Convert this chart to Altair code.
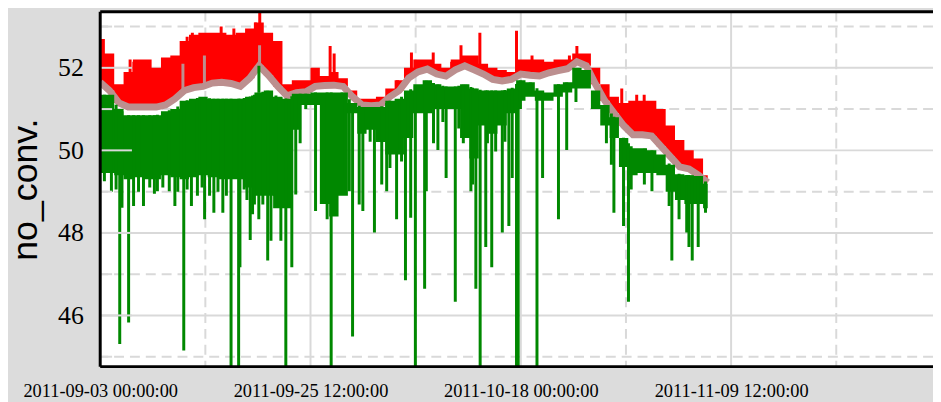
import altair as alt
import numpy as np
import pandas as pd

# ---------------- data ----------------
START = "2011-09-03 00:00:00"
X_END = "2011-12-01 02:24:00"
days = list(range(66))

red_top = [52.7, 52.35, 51.6, 51.9, 52.2, 52.2, 52.0, 52.25, 52.3, 52.65,
           52.8, 52.85, 52.85, 52.85, 52.8, 52.85, 52.95, 53.1, 52.85, 52.65,
           51.6, 51.7, 51.7, 52.0, 51.8, 51.9, 51.75, 51.45, 51.25, 51.25,
           51.3, 51.5, 51.7, 52.0, 52.2, 52.2, 52.1, 52.0, 52.2, 52.3,
           52.3, 52.1, 52.0, 51.95, 51.9, 52.2, 52.2, 52.2, 52.15, 52.2,
           52.2, 52.35, 52.35, 52.0, 51.6, 51.3, 51.15, 51.2, 51.2, 51.2,
           51.0, 50.6, 50.25, 50.0, 49.8, 49.4]

pink_mean = [51.65, 51.45, 51.15, 51.05, 51.05, 51.05, 51.05, 51.1, 51.25, 51.45,
             51.52, 51.55, 51.63, 51.65, 51.62, 51.55, 51.75, 52.05, 51.82, 51.55,
             51.32, 51.4, 51.42, 51.55, 51.57, 51.58, 51.55, 51.3, 51.1, 51.08,
             51.1, 51.3, 51.45, 51.75, 51.9, 51.97, 51.85, 51.8, 51.95, 52.05,
             51.95, 51.85, 51.72, 51.68, 51.72, 51.85, 51.82, 51.8, 51.88, 51.93,
             51.98, 52.15, 52.05, 51.6, 51.2, 50.9, 50.6, 50.38, 50.38, 50.35,
             50.1, 49.85, 49.6, 49.55, 49.4, 49.22]

green_top = [51.35, 51.35, 51.0, 50.85, 50.85, 50.85, 50.85, 50.95, 51.0, 51.2,
             51.25, 51.3, 51.25, 51.25, 51.25, 51.25, 51.3, 51.4, 51.45, 51.3,
             51.25, 51.37, 51.37, 51.4, 51.4, 51.4, 51.4, 51.15, 51.05, 51.05,
             51.05, 51.2, 51.25, 51.45, 51.6, 51.7, 51.6, 51.55, 51.55, 51.6,
             51.5, 51.45, 51.45, 51.45, 51.5, 51.7, 51.65, 51.45, 51.4, 51.6,
             51.65, 52.0, 51.95, 51.45, 51.1, 50.8, 50.3, 50.05, 50.05, 50.0,
             49.9, 49.65, 49.42, 49.4, 49.38, 49.2]

green_bottom = [49.45, 49.45, 49.4, 49.3, 49.35, 49.3, 49.3, 49.4, 49.35, 49.3,
                49.35, 49.4, 49.35, 49.3, 49.3, 49.3, 49.1, 48.9, 48.9, 48.6,
                48.6, 50.5, 51.1, 51.1, 48.7, 48.4, 48.9, 50.9, 50.4, 50.5,
                50.2, 49.9, 49.9, 50.3, 50.9, 50.9, 51.0, 51.0, 51.0, 50.3,
                49.8, 50.6, 50.4, 50.6, 50.9, 51.2, 51.3, 51.2, 51.2, 51.3,
                51.4, 51.5, 51.5, 51.0, 50.6, 50.3, 49.6, 49.4, 49.45, 49.45,
                49.4, 49.0, 48.8, 48.7, 48.7, 48.6]

green_spike_day = [2.09, 3.04, 2.33, 3.57, 4.63, 6.12, 7.39, 7.99, 8.94, 9.76,
                   11.17, 12.16, 13.12, 14.0, 14.81, 14.95, 16.05, 16.3, 16.5, 16.97,
                   17.4, 17.92, 18.27, 18.8, 19.33, 19.86, 20.5, 20.92, 21.39, 21.99,
                   23.04, 24.28, 24.71, 25.87, 26.65, 27.0, 27.71, 28.1, 28.88, 29.34,
                   30.12, 30.65, 31.0, 31.71, 32.24, 32.66, 33.22, 33.72, 34.71, 34.89,
                   35.66, 36.13, 36.66, 37.01, 37.99, 38.36, 38.85, 39.13, 39.66, 39.84,
                   40.19, 40.65, 41.25, 41.43, 41.89, 42.31, 43.02, 43.3, 43.72, 44.08,
                   44.54, 44.72, 44.96, 46.02, 46.73, 47.33, 49.03, 49.91, 50.9, 54.16,
                   54.69, 54.96, 55.99, 56.52, 56.81, 58.22, 59.03, 60.87, 61.16, 61.93,
                   62.75, 62.99, 63.34, 63.98, 64.76, 16.98,
                   0.45, 1.2, 1.7, 4.1, 5.3, 5.8, 6.7, 8.3, 9.3, 10.4,
                   10.9, 11.7, 12.6, 13.5, 15.4, 15.7]
green_spike_val = [45.31, 45.83, 48.61, 48.65, 48.65, 49.01, 49.01, 48.65, 45.15, 48.65,
                   48.33, 48.49, 48.49, 44.5, 44.5, 47.17, 47.83, 48.45, 48.69, 48.33,
                   48.69, 47.33, 47.81, 48.61, 47.81, 44.5, 47.17, 48.93, 50.17, 51.0,
                   48.53, 48.33, 44.5, 49.33, 49.01, 45.49, 48.69, 48.53, 50.21, 48.01,
                   49.17, 49.01, 49.57, 48.33, 49.73, 46.85, 48.37, 44.5, 46.65, 49.01,
                   50.17, 50.01, 50.69, 49.33, 46.33, 50.53, 50.17, 50.65, 49.01, 49.17,
                   46.65, 44.5, 47.66, 50.17, 47.17, 49.97, 48.01, 50.21, 48.17, 49.33,
                   44.5, 44.5, 51.0, 51.37, 44.5, 49.33, 48.33, 50.01, 51.17, 50.17,
                   49.65, 48.49, 48.17, 46.33, 49.05, 49.17, 49.01, 48.65, 47.33, 48.33,
                   48.01, 47.66, 47.33, 47.66, 48.49, 52.05,
                   49.25, 49.0, 49.05, 49.0, 49.1, 48.95, 49.1, 49.0, 49.05, 48.9,
                   49.1, 48.9, 49.0, 48.9, 49.05, 48.8]

red_spike_day = [9.86, 12.94, 17.07, 24.6, 25.03, 33.3, 35.63, 38.6, 40.62, 44.54,
                 51.0, 55.8, 58.2, 3.2, 3.6, 9.3, 14.3, 16.6, 22.9, 31.8,
                 37.6, 46.2, 50.2, 57.4]
red_spike_val = [52.85, 53.0, 53.33, 52.53, 52.35, 52.37, 52.37, 52.55, 52.85, 52.9,
                 52.53, 51.5, 51.35, 52.2, 52.15, 52.75, 52.95, 53.1, 51.95, 51.7,
                 52.15, 52.3, 52.3, 51.35]

pink_spike_day = [8.85, 11.15, 17.05]
pink_spike_val = [52.1, 52.3, 52.55]

y_major = [46, 48, 50, 52]
y_minor = [45, 47, 49, 51, 53]
x_major = ["2011-09-03 00:00:00", "2011-09-25 12:00:00",
           "2011-10-18 00:00:00", "2011-11-09 12:00:00"]
x_minor = ["2011-09-14 06:00:00", "2011-10-06 18:00:00",
           "2011-10-29 06:00:00", "2011-11-20 18:00:00"]
Y_DOMAIN = [44.76, 53.36]

# ---------------- styling ----------------
W, H = 840, 358
BG = "#dcdcdc"
GRID = "#d9d9d9"
RED, PINK, GREEN = "#ff0000", "#bc8f8f", "#008800"
SERIF, SANS = "Liberation Serif", "Liberation Sans"

t0 = pd.Timestamp(START)


def stamp(d):
    return (t0 + pd.to_timedelta(d, unit="D")).strftime("%Y-%m-%dT%H:%M:%S")


def iso(s):
    return pd.Timestamp(s).strftime("%Y-%m-%dT%H:%M:%S")


def dt(s):
    t = pd.Timestamp(s)
    return alt.DateTime(year=t.year, month=t.month, date=t.day,
                        hours=t.hour, minutes=t.minute)


xscale = alt.Scale(domain=[dt(START), dt(X_END)])
yscale = alt.Scale(domain=Y_DOMAIN, nice=False, zero=False)

xaxis = alt.Axis(values=[dt(s) for s in x_major], format="%Y-%m-%d %H:%M:%S",
                 labelFont=SERIF, labelFontSize=18.5, labelColor="black",
                 labelPadding=15, ticks=False, tickSize=0, domain=False,
                 grid=False, title=None, labelFlush=False, labelOverlap=False,
                 labelAngle=0)
yaxis = alt.Axis(values=y_major, labelFont=SERIF, labelFontSize=26,
                 labelColor="black", labelPadding=17, ticks=False, tickSize=0,
                 domain=False, grid=False, title="no_conv.", titleFont=SANS,
                 titleFontSize=36, titleFontWeight="normal", titleColor="black",
                 titleAngle=270, titleX=-64, titleY=179, titleAlign="center",
                 titleBaseline="alphabetic")

series = pd.DataFrame({
    "t": [stamp(d) for d in days],
    "red_top": red_top, "pink": pink_mean,
    "gtop": green_top, "gbot": green_bottom,
})

gs = pd.DataFrame({
    "t": [stamp(d) for d in green_spike_day],
    "lo": green_spike_val,
    "hi": np.interp(green_spike_day, days, green_top),
})
rs = pd.DataFrame({
    "t": [stamp(d) for d in red_spike_day],
    "lo": np.interp(red_spike_day, days, pink_mean),
    "hi": red_spike_val,
})
ps = pd.DataFrame({
    "t": [stamp(d) for d in pink_spike_day],
    "lo": np.interp(pink_spike_day, days, pink_mean),
    "hi": pink_spike_val,
})


def X(field="t:T"):
    return alt.X(field, scale=xscale, axis=xaxis)


def Y(field):
    return alt.Y(field, scale=yscale, axis=yaxis)


vminor = alt.Chart(pd.DataFrame({"t": [iso(s) for s in x_minor]})).mark_rule(
    color=GRID, strokeWidth=2, strokeDash=[10, 6]).encode(x=X())
vmajor = alt.Chart(pd.DataFrame({"t": [iso(s) for s in x_major]})).mark_rule(
    color=GRID, strokeWidth=2).encode(x=X())
hminor = alt.Chart(pd.DataFrame({"v": y_minor})).mark_rule(
    color=GRID, strokeWidth=2, strokeDash=[10, 6]).encode(y=Y("v:Q"))
hmajor = alt.Chart(pd.DataFrame({"v": y_major})).mark_rule(
    color=GRID, strokeWidth=2).encode(y=Y("v:Q"))

red_area = alt.Chart(series).mark_area(color=RED, interpolate="step", clip=True).encode(
    x=X(), y=Y("red_top:Q"), y2="pink:Q")
red_sp = alt.Chart(rs).mark_rule(color=RED, strokeWidth=3, clip=True).encode(
    x=X(), y=Y("lo:Q"), y2="hi:Q")

pink_line = alt.Chart(series).mark_line(color=PINK, strokeWidth=7, clip=True).encode(
    x=X(), y=Y("pink:Q"))
pink_sp = alt.Chart(ps).mark_rule(color=PINK, strokeWidth=3, clip=True).encode(
    x=X(), y=Y("lo:Q"), y2="hi:Q")

green_area = alt.Chart(series).mark_area(color=GREEN, interpolate="step", clip=True).encode(
    x=X(), y=Y("gtop:Q"), y2="gbot:Q")
green_sp = alt.Chart(gs).mark_rule(color=GREEN, strokeWidth=3, clip=True).encode(
    x=X(), y=Y("lo:Q"), y2="hi:Q")

tick_major = alt.Chart(pd.DataFrame({"v": y_major})).mark_rule(
    color=GRID, strokeWidth=2).encode(y=Y("v:Q"), x=alt.value(0), x2=alt.value(32))
tick_minor = alt.Chart(pd.DataFrame({"v": y_minor})).mark_rule(
    color=GRID, strokeWidth=2).encode(y=Y("v:Q"), x=alt.value(0), x2=alt.value(12))

one = pd.DataFrame({"a": [0]})
frame_top = alt.Chart(one).mark_rule(color="black", strokeWidth=3).encode(
    x=alt.value(0), x2=alt.value(W), y=alt.value(0))
frame_bottom = alt.Chart(one).mark_rule(color="black", strokeWidth=3).encode(
    x=alt.value(0), x2=alt.value(W), y=alt.value(H))
frame_left = alt.Chart(one).mark_rule(color="black", strokeWidth=3).encode(
    x=alt.value(0), y=alt.value(0), y2=alt.value(H))

chart = alt.layer(
    vminor, vmajor, hminor, hmajor,
    red_area, red_sp, pink_line, pink_sp, green_area, green_sp,
    tick_major, tick_minor, frame_top, frame_bottom, frame_left,
).properties(
    width=W, height=H,
    autosize=alt.AutoSizeParams(type="none"),
    padding={"left": 93, "top": 2, "right": 0, "bottom": 40},
    background=BG,
    usermeta={"embedOptions": {"defaultStyle": "body{background:#dcdcdc;overflow:hidden;}"}},
).configure(background=BG).configure_view(stroke=None, fill="white").configure_axis(
    labelFont=SERIF, titleFont=SANS
).configure_axisY(labelFont=SERIF, labelFontSize=26)

chart.save("out.html", embed_options={"renderer": "svg", "actions": False})
